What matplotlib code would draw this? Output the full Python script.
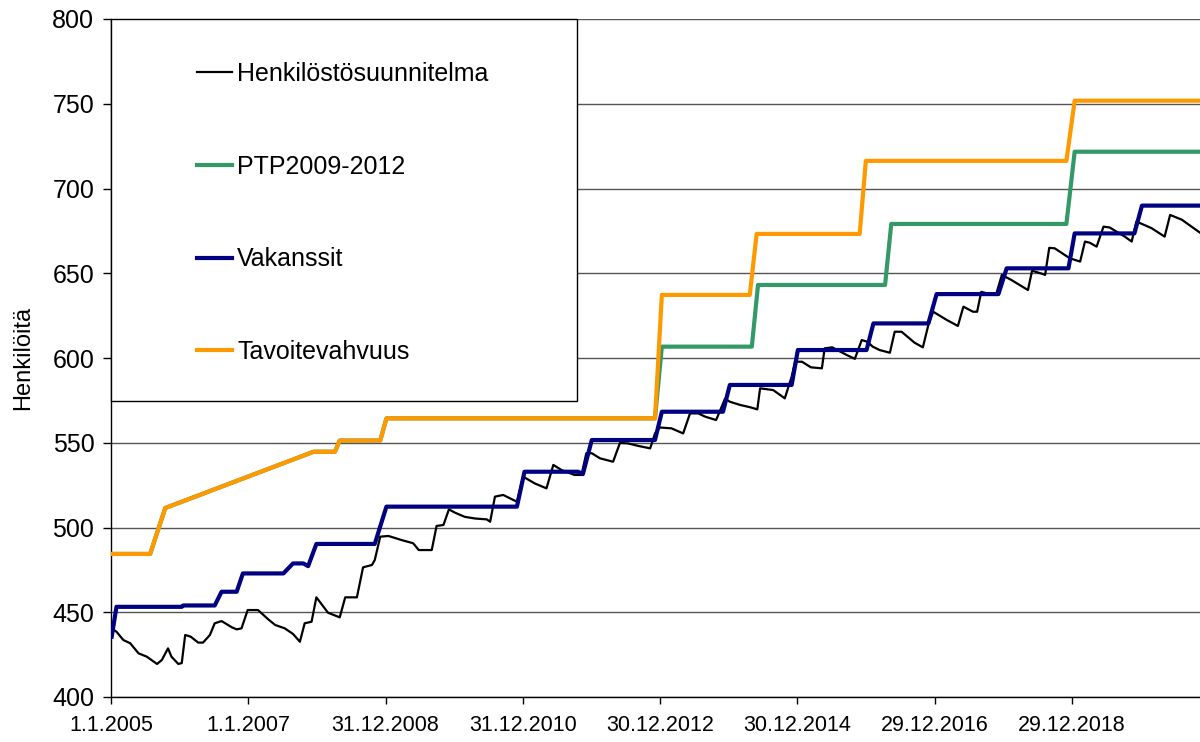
import numpy as np
import matplotlib
matplotlib.use("Agg")
import matplotlib.pyplot as plt
from matplotlib.patches import Rectangle

plt.rcParams["font.family"] = ["Liberation Sans", "DejaVu Sans"]

# Series vertices as decimal years and head counts
plan_years = [
    2005.01, 2005.08, 2005.18, 2005.28, 2005.40, 2005.52, 2005.67, 2005.74, 2005.83, 2005.88,
    2005.98, 2006.03, 2006.08, 2006.16, 2006.27, 2006.34, 2006.44, 2006.51, 2006.61, 2006.76,
    2006.83, 2006.90, 2006.99, 2007.14, 2007.29, 2007.39, 2007.53, 2007.65, 2007.75, 2007.82,
    2007.92, 2007.99, 2008.16, 2008.33, 2008.41, 2008.58, 2008.67, 2008.80, 2008.84, 2008.92,
    2009.04, 2009.23, 2009.40, 2009.48, 2009.67, 2009.74, 2009.84, 2009.92, 2010.01, 2010.15,
    2010.30, 2010.47, 2010.52, 2010.59, 2010.71, 2010.91, 2011.00, 2011.17, 2011.34, 2011.44,
    2011.56, 2011.75, 2011.85, 2011.92, 2012.00, 2012.12, 2012.31, 2012.41, 2012.53, 2012.68,
    2012.85, 2012.92, 2012.99, 2013.16, 2013.33, 2013.43, 2013.55, 2013.65, 2013.81, 2013.94,
    2014.01, 2014.16, 2014.31, 2014.41, 2014.45, 2014.64, 2014.81, 2014.91, 2014.96, 2015.06,
    2015.19, 2015.35, 2015.39, 2015.50, 2015.71, 2015.83, 2015.93, 2016.01, 2016.09, 2016.19,
    2016.34, 2016.41, 2016.51, 2016.70, 2016.82, 2016.90, 2016.97, 2017.17, 2017.33, 2017.41,
    2017.55, 2017.61, 2017.67, 2017.82, 2017.89, 2017.97, 2018.11, 2018.35, 2018.41, 2018.57,
    2018.60, 2018.66, 2018.74, 2018.96, 2019.11, 2019.18, 2019.25, 2019.35, 2019.45, 2019.54,
    2019.76, 2019.86, 2019.93, 2020.15, 2020.34, 2020.42, 2020.59, 2020.86,
]
plan_values = [
    440.5, 438.5, 433.6, 431.7, 425.8, 423.8, 419.5, 421.8, 428.7, 423.8,
    419.5, 420.0, 436.6, 435.6, 432.1, 432.1, 436.6, 443.5, 444.8, 441.1,
    439.9, 440.5, 451.3, 451.3, 445.8, 442.5, 440.5, 437.2, 432.6, 443.5,
    444.4, 458.8, 449.7, 447.0, 458.8, 458.8, 476.5, 477.9, 480.8, 494.6,
    495.0, 492.6, 490.7, 486.7, 486.7, 500.9, 501.5, 510.7, 508.7, 506.3,
    505.3, 504.8, 503.4, 518.2, 519.2, 515.2, 530.0, 526.0, 523.1, 536.9,
    533.9, 531.0, 531.0, 543.8, 543.8, 540.8, 538.8, 549.9, 549.6, 548.1,
    546.7, 555.5, 559.0, 558.5, 555.5, 567.3, 567.3, 565.4, 563.4, 576.0,
    574.2, 572.3, 570.9, 569.7, 582.1, 581.1, 576.2, 589.0, 597.8, 597.8,
    594.5, 593.9, 605.7, 606.3, 601.8, 599.5, 610.6, 609.6, 606.7, 604.7,
    603.1, 615.5, 615.5, 609.0, 606.3, 619.5, 627.3, 622.4, 618.9, 630.3,
    627.3, 627.3, 639.0, 637.5, 638.0, 649.0, 646.0, 640.1, 651.5, 649.5,
    649.0, 665.0, 664.7, 658.8, 656.9, 668.7, 668.0, 665.7, 677.5, 677.0,
    671.6, 668.7, 680.5, 676.6, 671.6, 684.4, 681.6, 673.8,
]

ptp_years = [2005.00, 2005.57, 2005.79, 2007.95, 2008.26, 2008.33, 2008.92, 2009.01,
             2012.92, 2013.02, 2014.33, 2014.42, 2016.27, 2016.36, 2018.91, 2019.03, 2020.86]
ptp_values = [484.4, 484.4, 511.5, 544.7, 544.7, 551.3, 551.3, 564.4,
              564.4, 606.7, 606.7, 643.1, 643.1, 679.1, 679.1, 721.7, 721.7]

vacancy_years = [2005.01, 2005.08, 2006.03, 2006.05, 2006.51, 2006.61, 2006.83, 2006.92,
                 2007.51, 2007.65, 2007.80, 2007.87, 2007.99, 2008.84, 2009.01, 2010.91,
                 2011.02, 2011.80, 2011.87, 2012.00, 2012.92, 2013.02, 2013.91, 2014.01,
                 2014.91, 2015.00, 2016.00, 2016.10, 2016.90, 2017.02, 2017.92, 2018.04,
                 2018.94, 2019.03, 2019.90, 2020.01, 2020.86]
vacancy_values = [435.6, 453.2, 453.2, 454.0, 454.0, 462.1, 462.1, 472.9,
                  472.9, 478.8, 478.8, 477.2, 490.3, 490.3, 512.3, 512.3,
                  532.9, 532.9, 531.5, 551.6, 551.6, 568.3, 568.3, 584.1,
                  584.1, 604.7, 604.7, 620.4, 620.4, 637.7, 637.7, 652.9,
                  652.9, 673.5, 673.5, 689.9, 689.9]

target_years = [2005.00, 2005.57, 2005.79, 2007.95, 2008.26, 2008.33, 2008.92, 2009.01,
                2012.92, 2013.02, 2014.30, 2014.40, 2015.90, 2015.99, 2018.91, 2019.03, 2020.86]
target_values = [484.4, 484.4, 511.5, 544.7, 544.7, 551.3, 551.3, 564.4,
                 564.4, 637.2, 637.2, 673.2, 673.2, 716.3, 716.3, 751.8, 751.8]

tick_labels = ["1.1.2005", "1.1.2007", "31.12.2008", "31.12.2010",
               "30.12.2012", "30.12.2014", "29.12.2016", "29.12.2018"]


def to_days(years):
    # days counted from 1.1.2005, same unit as the axis ticks
    return (np.asarray(years) - 2005.0) * 365.25


fig = plt.figure(figsize=(12, 7.42), dpi=100)
ax = fig.add_axes([111 / 1200, 45 / 742, 1089 / 1200, 678 / 742])

ax.plot(to_days(plan_years), plan_values, color="black", lw=1.6, zorder=3,
        label="Henkilöstösuunnitelma")
ax.plot(to_days(ptp_years), ptp_values, color="#339966", lw=3.0, zorder=4,
        label="PTP2009-2012")
ax.plot(to_days(vacancy_years), vacancy_values, color="#000080", lw=3.0, zorder=5,
        label="Vakanssit")
ax.plot(to_days(target_years), target_values, color="#FF9900", lw=3.0, zorder=6,
        label="Tavoitevahvuus")

ax.set_ylim(400, 800)
ax.set_xlim(0, to_days(2020.855))
ax.set_yticks(np.arange(400, 801, 50))
ax.set_xticks(np.arange(0, 5111, 730))
ax.set_xticklabels(tick_labels)

ax.yaxis.grid(True, color="#555555", lw=1.0)
ax.set_axisbelow(True)
for side in ("top", "right"):
    ax.spines[side].set_visible(False)
for side in ("left", "bottom"):
    ax.spines[side].set_linewidth(1.0)
    ax.spines[side].set_color("black")

ax.tick_params(axis="y", labelsize=18, length=6, width=1, pad=6)
ax.tick_params(axis="x", labelsize=15.5, length=5, width=1, pad=8)
ax.set_ylabel("Henkilöitä", fontsize=17, labelpad=13)

# legend sits in a white framed box over the upper left of the plot
ax.add_patch(Rectangle((0.0, 0.4366), 0.428, 0.5634, transform=ax.transAxes,
                       facecolor="white", edgecolor="black", lw=1.0,
                       zorder=8, clip_on=False))
leg = ax.legend(loc="center", bbox_to_anchor=(0.213, 0.714), frameon=False,
                fontsize=18, handlelength=1.4, handletextpad=0.2,
                labelspacing=2.75, borderpad=0)
leg.set_zorder(9)

fig.savefig("out.png", dpi=100)
